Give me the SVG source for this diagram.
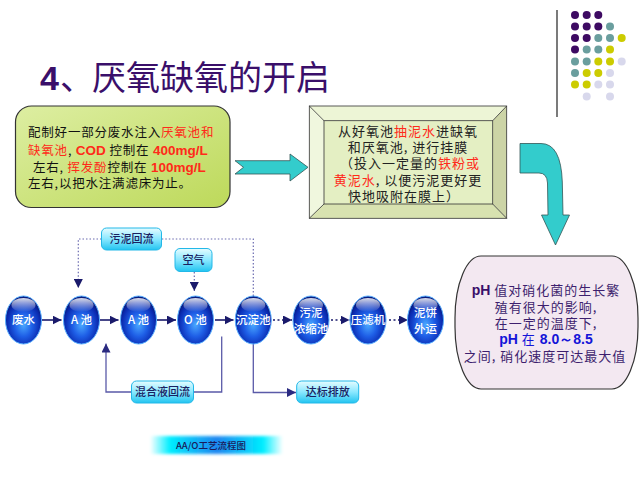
<svg xmlns="http://www.w3.org/2000/svg" width="640" height="479" viewBox="0 0 640 479">
<style>
.cjk{font-family:"Noto Sans CJK SC","Noto Sans",sans-serif}
.lat{font-family:"Liberation Sans",Arial,sans-serif;font-weight:bold}
.red{fill:#FF2A1A}
.sph-t{font-family:"Noto Sans CJK SC",sans-serif;font-size:11.5px;font-weight:500;fill:#fff;text-anchor:middle}
.lbl{font-family:"Noto Sans CJK SC",sans-serif;font-size:11px;font-weight:500;fill:#1A2060;text-anchor:middle}
.lbox{fill:url(#lblg);stroke:#22B8E8;stroke-width:1}
.flow{stroke:#1A1A6B;stroke-width:1.6;fill:none}
.dot{stroke:#1A1A6B;stroke-width:1.6;fill:none;stroke-dasharray:2 2.5}
.ret{stroke:#6A6AB0;stroke-width:1.2;fill:none;stroke-dasharray:1.5 2}
.sol{stroke:#5A5AA8;stroke-width:1.3;fill:none}
</style>
<defs>
<radialGradient id="sph" cx="0.5" cy="0.6" r="0.55">
<stop offset="0" stop-color="#4AA8FF"/>
<stop offset="0.45" stop-color="#1E5EE6"/>
<stop offset="0.85" stop-color="#0A2AB0"/>
<stop offset="1" stop-color="#081C80"/>
</radialGradient>
<linearGradient id="hl" x1="0" y1="0" x2="0" y2="1">
<stop offset="0" stop-color="#fff" stop-opacity="0.85"/>
<stop offset="1" stop-color="#fff" stop-opacity="0"/>
</linearGradient>
<linearGradient id="lblg" x1="0" y1="0" x2="0" y2="1">
<stop offset="0" stop-color="#E6FCFF"/>
<stop offset="0.5" stop-color="#8AE8FF"/>
<stop offset="1" stop-color="#22C4F0"/>
</linearGradient>
<linearGradient id="green" x1="0" y1="0" x2="1" y2="1">
<stop offset="0" stop-color="#DDEEA2"/>
<stop offset="1" stop-color="#BDD95A"/>
</linearGradient>
<linearGradient id="cap" x1="0" y1="0" x2="1" y2="0">
<stop offset="0" stop-color="#00F0FF" stop-opacity="0"/>
<stop offset="0.15" stop-color="#00EEFF"/>
<stop offset="0.5" stop-color="#1E86F0"/>
<stop offset="0.85" stop-color="#00EEFF"/>
<stop offset="1" stop-color="#00F0FF" stop-opacity="0"/>
</linearGradient>
<filter id="blur" x="-0.1" y="-0.5" width="1.2" height="2">
<feGaussianBlur stdDeviation="1.5"/>
</filter>
<marker id="ah" viewBox="0 0 10 10" refX="10" refY="5" markerWidth="9" markerHeight="9" markerUnits="userSpaceOnUse" orient="auto">
<path d="M0,0 L10,5 L0,10 Z" fill="#1A1A6B"/>
</marker>
<marker id="ah2" viewBox="0 0 10 10" refX="10" refY="5" markerWidth="9" markerHeight="9" markerUnits="userSpaceOnUse" orient="auto">
<path d="M0,0 L10,5 L0,10 Z" fill="#2A2A80"/>
</marker>
</defs>

<rect width="640" height="479" fill="#fff"/>

<!-- decoration -->
<g id="decor">
<line x1="557" y1="10" x2="557" y2="117" stroke="#222" stroke-width="1.2"/>
<g fill="#3D0A62">
<circle cx="575" cy="15" r="4"/><circle cx="586.7" cy="15" r="4"/><circle cx="598.3" cy="15" r="4"/>
<circle cx="575" cy="26.5" r="4"/><circle cx="586.7" cy="26.5" r="4"/><circle cx="598.3" cy="26.5" r="4"/>
<circle cx="575" cy="38" r="4"/><circle cx="586.7" cy="38" r="4"/>
<circle cx="575" cy="49.5" r="4"/>
</g>
<g fill="#6A9E9E">
<circle cx="610" cy="26.5" r="4"/>
<circle cx="598.3" cy="38" r="4"/><circle cx="610" cy="38" r="4"/>
<circle cx="586.7" cy="49.5" r="4"/><circle cx="598.3" cy="49.5" r="4"/>
<circle cx="575" cy="61.5" r="4"/><circle cx="586.7" cy="61.5" r="4"/>
<circle cx="575" cy="73" r="4"/>
</g>
<g fill="#CCCC00">
<circle cx="621.7" cy="38" r="4"/>
<circle cx="610" cy="49.5" r="4"/>
<circle cx="598.3" cy="61.5" r="4"/><circle cx="610" cy="61.5" r="4"/>
<circle cx="586.7" cy="73" r="4"/><circle cx="598.3" cy="73" r="4"/>
<circle cx="575" cy="84.5" r="4"/><circle cx="586.7" cy="84.5" r="4"/>
</g>
<g fill="#D8D8EC">
<circle cx="621.7" cy="61.5" r="4"/>
<circle cx="610" cy="73" r="4"/>
<circle cx="598.3" cy="84.5" r="4"/><circle cx="610" cy="84.5" r="4"/>
<circle cx="586.7" cy="96.5" r="4"/><circle cx="610" cy="96.5" r="4"/>
</g>
</g>

<!-- title -->
<g id="title" fill="#3A0F6A">
<text x="40" y="90" class="lat" font-size="34">4</text>
<text x="60" y="90" class="cjk" font-size="34">、</text>
<text x="92" y="90" class="cjk" font-size="34" textLength="238" lengthAdjust="spacingAndGlyphs">厌氧缺氧的开启</text>
</g>

<!-- left box -->
<g id="box-left">
<rect x="15.5" y="106" width="214.5" height="101.5" rx="16" fill="url(#green)" stroke="#333" stroke-width="1.2"/>
<g class="cjk" font-size="12.5" fill="#111" letter-spacing="0.8">
<text x="28" y="137">配制好一部分废水注入<tspan class="red">厌氧池和</tspan></text>
<text x="28" y="155"><tspan class="red">缺氧池</tspan>, <tspan class="lat red" font-size="13.5" letter-spacing="0">COD</tspan> 控制在 <tspan class="lat red" font-size="13.5" letter-spacing="0">400mg/L</tspan></text>
<text x="33" y="172">左右, <tspan class="red">挥发酚</tspan>控制在 <tspan class="lat red" font-size="13.5" letter-spacing="0">100mg/L</tspan></text>
<text x="28" y="188">左右,以把水注满滤床为止。</text>
</g>
</g>

<!-- block arrow -->
<g id="arrow-right">
<path d="M235,160.7 L290,160.7 L290,154 L308,167.3 L290,181 L290,174 L235,174 L243.5,167.3 Z" fill="#33CCCC" stroke="#335555" stroke-width="0.8"/>
</g>

<!-- middle bevel box -->
<g id="box-mid">
<polygon points="309.3,106 506.7,106 492.7,120.7 324,120.7" fill="#EDF5D6"/>
<polygon points="309.3,106 324,120.7 324,204 309.3,218.3" fill="#F0F7DE"/>
<polygon points="506.7,106 506.7,218.3 492.7,204 492.7,120.7" fill="#CCD4A6"/>
<polygon points="309.3,218.3 324,204 492.7,204 506.7,218.3" fill="#D8E2B0"/>
<rect x="324" y="120.7" width="168.7" height="83.3" fill="#E4EFC3"/>
<g stroke="#333" stroke-width="0.8" fill="none">
<rect x="309.3" y="106" width="197.4" height="112.3"/>
<rect x="324" y="120.7" width="168.7" height="83.3"/>
<line x1="309.3" y1="106" x2="324" y2="120.7"/>
<line x1="506.7" y1="106" x2="492.7" y2="120.7"/>
<line x1="309.3" y1="218.3" x2="324" y2="204"/>
<line x1="506.7" y1="218.3" x2="492.7" y2="204"/>
</g>
<g class="cjk" font-size="13" fill="#222" text-anchor="middle" letter-spacing="1">
<text x="408" y="136">从好氧池<tspan class="red">抽泥水</tspan>进缺氧</text>
<text x="408" y="152">和厌氧池, 进行挂膜</text>
<text x="410" y="168">（投入一定量的<tspan class="red">铁粉或</tspan></text>
<text x="408" y="185"><tspan class="red">黄泥水</tspan>, 以便污泥更好更</text>
<text x="404" y="201">快地吸附在膜上）</text>
</g>
</g>

<!-- curved arrow -->
<g id="arrow-curve">
<path d="M520,143.5 L541,143.5 Q561,143.5 562.3,182 L563,215 L569.5,215 L555.5,245 L541.5,215 L548,215 L547.5,183 Q547,173 539,173 L520,173 Z" fill="#33CCCC" stroke="#335555" stroke-width="0.8"/>
</g>

<!-- right box -->
<g id="box-right">
<rect x="455" y="256" width="183" height="133" rx="26" ry="62" fill="#F3E8F1" stroke="#333" stroke-width="1.2"/>
<g class="cjk" font-size="13" fill="#3D1F6E" text-anchor="middle" letter-spacing="1">
<text x="546" y="295"><tspan class="lat" fill="#3A0F6A" font-size="14" letter-spacing="0">pH</tspan> 值对硝化菌的生长繁</text>
<text x="546" y="312">殖有很大的影响,</text>
<text x="546" y="328">在一定的温度下,</text>
<text x="546" y="344" fill="#1414D8"><tspan class="lat" font-size="14" letter-spacing="0">pH</tspan> 在 <tspan class="lat" font-size="14" letter-spacing="0">8.0～8.5</tspan></text>
<text x="545" y="361">之间, 硝化速度可达最大值</text>
</g>
</g>

<!-- connectors -->
<g id="connectors">
<line x1="41.5" y1="320" x2="61.5" y2="320" class="flow" marker-end="url(#ah)"/>
<line x1="99.5" y1="320" x2="118.5" y2="320" class="flow" marker-end="url(#ah)"/>
<line x1="156.5" y1="320" x2="176" y2="320" class="flow" marker-end="url(#ah)"/>
<line x1="215" y1="320" x2="233.5" y2="320" class="flow" marker-end="url(#ah)"/>
<line x1="273" y1="320" x2="292" y2="320" class="dot" marker-end="url(#ah)"/>
<line x1="331" y1="320" x2="349.5" y2="320" class="dot" marker-end="url(#ah)"/>
<line x1="389" y1="320" x2="408" y2="320" class="dot" marker-end="url(#ah)"/>
<path d="M253.3,296 V239 H162" class="ret"/>
<path d="M101.5,239 H78.3 V288" class="ret" marker-end="url(#ah)"/>
<path d="M194.3,272 V291" class="ret" marker-end="url(#ah)"/>
<path d="M221.7,336.5 V392 H193.5" class="sol"/>
<path d="M131.5,392 H106 V343.5" class="sol" marker-end="url(#ah2)"/>
<path d="M253.3,344 V392.5 H296" class="sol" marker-end="url(#ah2)"/>
</g>

<!-- spheres -->
<g id="n-feishui">
<ellipse cx="23.5" cy="320" rx="18" ry="24" fill="url(#sph)" stroke="#5AB0FF" stroke-width="1"/>
<ellipse cx="23.5" cy="305" rx="12" ry="7" fill="url(#hl)"/>
<text x="23.5" y="324" class="sph-t">废水</text>
</g>
<g id="n-a1">
<ellipse cx="81.5" cy="320" rx="18" ry="24" fill="url(#sph)" stroke="#5AB0FF" stroke-width="1"/>
<ellipse cx="81.5" cy="305" rx="12" ry="7" fill="url(#hl)"/>
<text x="81.5" y="324" class="sph-t">A 池</text>
</g>
<g id="n-a2">
<ellipse cx="138.5" cy="320" rx="18" ry="24" fill="url(#sph)" stroke="#5AB0FF" stroke-width="1"/>
<ellipse cx="138.5" cy="305" rx="12" ry="7" fill="url(#hl)"/>
<text x="138.5" y="324" class="sph-t">A 池</text>
</g>
<g id="n-o">
<ellipse cx="195.5" cy="320" rx="18" ry="24" fill="url(#sph)" stroke="#5AB0FF" stroke-width="1"/>
<ellipse cx="195.5" cy="305" rx="12" ry="7" fill="url(#hl)"/>
<text x="195.5" y="324" class="sph-t">O 池</text>
</g>
<g id="n-chendian">
<ellipse cx="253.3" cy="320" rx="18" ry="24" fill="url(#sph)" stroke="#5AB0FF" stroke-width="1"/>
<ellipse cx="253.3" cy="305" rx="12" ry="7" fill="url(#hl)"/>
<text x="253.3" y="324" class="sph-t">沉淀池</text>
</g>
<g id="n-nongsuo">
<ellipse cx="311" cy="320" rx="18" ry="24" fill="url(#sph)" stroke="#5AB0FF" stroke-width="1"/>
<ellipse cx="311" cy="305" rx="12" ry="7" fill="url(#hl)"/>
<text x="311" y="317" class="sph-t">污泥</text>
<text x="311" y="333" class="sph-t">浓缩池</text>
</g>
<g id="n-yalv">
<ellipse cx="368" cy="320" rx="18" ry="24" fill="url(#sph)" stroke="#5AB0FF" stroke-width="1"/>
<ellipse cx="368" cy="305" rx="12" ry="7" fill="url(#hl)"/>
<text x="368" y="324" class="sph-t">压滤机</text>
</g>
<g id="n-nibing">
<ellipse cx="425.5" cy="320" rx="18" ry="24" fill="url(#sph)" stroke="#5AB0FF" stroke-width="1"/>
<ellipse cx="425.5" cy="305" rx="12" ry="7" fill="url(#hl)"/>
<text x="425.5" y="317" class="sph-t">泥饼</text>
<text x="425.5" y="333" class="sph-t">外运</text>
</g>

<!-- label boxes -->
<g id="l-wunihuiliu">
<rect x="101.5" y="228" width="60" height="22" rx="5" class="lbox"/>
<text x="131.5" y="243" class="lbl">污泥回流</text>
</g>
<g id="l-kongqi">
<rect x="175" y="248.5" width="37" height="23" rx="5" class="lbox"/>
<text x="193.5" y="264" class="lbl">空气</text>
</g>
<g id="l-hunhe">
<rect x="131.5" y="381" width="62" height="22" rx="5" class="lbox"/>
<text x="162.5" y="396" class="lbl">混合液回流</text>
</g>
<g id="l-dabiao">
<rect x="296.7" y="381" width="62" height="22" rx="5" class="lbox"/>
<text x="327.7" y="396" class="lbl">达标排放</text>
</g>

<!-- caption -->
<g id="caption">
<rect x="150" y="436" width="133" height="18" fill="url(#cap)" filter="url(#blur)"/>
<text x="211" y="449" class="cjk" font-size="9.5" font-weight="500" fill="#1A1A5A" text-anchor="middle">AA/O工艺流程图</text>
</g>
</svg>
